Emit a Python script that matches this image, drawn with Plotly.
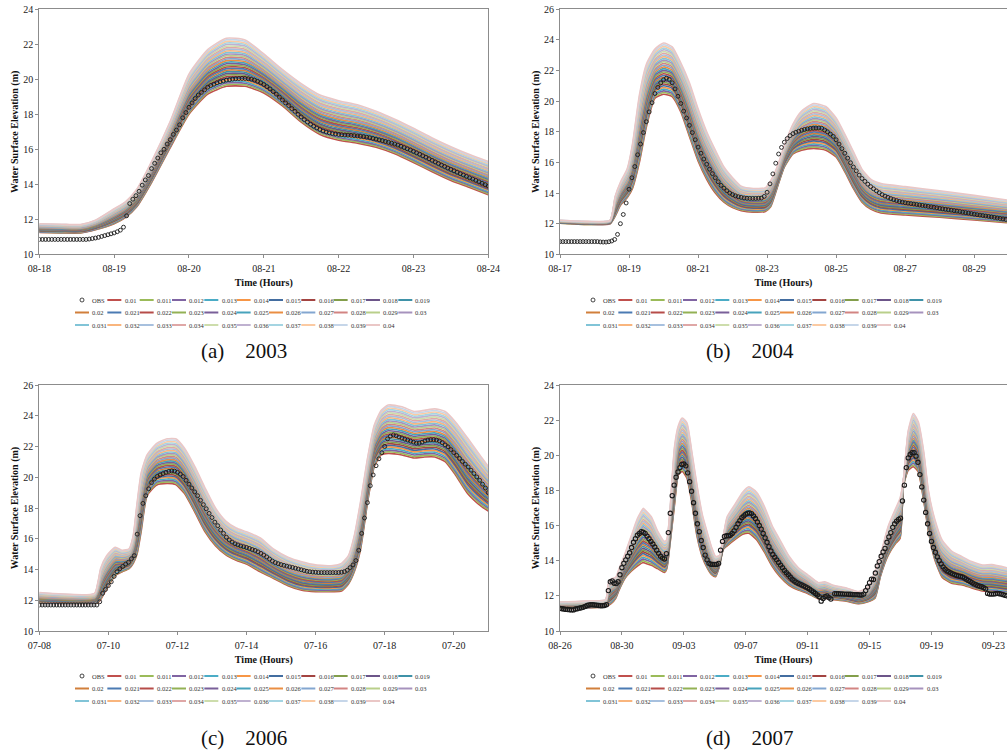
import numpy as np
import pandas as pd
import plotly.graph_objects as go

W, H = 1007, 755

# ---------------- data ----------------
N_NAMES = ["0.01", "0.011", "0.012", "0.013", "0.014", "0.015", "0.016", "0.017", "0.018", "0.019",
           "0.02", "0.021", "0.022", "0.023", "0.024", "0.025", "0.026", "0.027", "0.028", "0.029",
           "0.03", "0.031", "0.032", "0.033", "0.034", "0.035", "0.036", "0.037", "0.038", "0.039", "0.04"]

X_TICK_FORMAT = "%m-%d"

# (a) 2003 : OBS hourly from 08-18 00:00
A_START = "2003-08-18"
A_OBS_STEP_H = 1
A_OBS = [10.85] * 16 + [
    10.87, 10.90, 10.93, 10.97, 11.02, 11.07, 11.12, 11.17, 11.22, 11.29, 11.38, 11.55,
    12.20, 12.90, 13.15, 13.35, 13.60, 13.95, 14.25, 14.50, 14.90, 15.20, 15.50, 15.80,
    16.00, 16.30, 16.55, 16.85, 17.10, 17.40, 17.80, 18.10, 18.40, 18.65, 18.90, 19.10,
    19.25, 19.40, 19.55, 19.65, 19.72, 19.80, 19.86, 19.90, 19.95, 19.98, 20.01, 20.03,
    20.04, 20.05, 20.05, 20.03, 20.00, 19.95, 19.88, 19.80, 19.70, 19.58, 19.45, 19.30,
    19.15, 18.98, 18.82, 18.65, 18.50, 18.33, 18.17, 18.00, 17.85, 17.70, 17.56, 17.43,
    17.32, 17.22, 17.13, 17.05, 16.99, 16.94, 16.90, 16.87, 16.85, 16.83, 16.82, 16.81,
    16.80, 16.78, 16.76, 16.74, 16.72, 16.69, 16.66, 16.62, 16.58, 16.54, 16.50, 16.45,
    16.40, 16.35, 16.30, 16.24, 16.17, 16.10, 16.03, 15.96, 15.88, 15.80, 15.72, 15.63,
    15.55, 15.46, 15.37, 15.28, 15.19, 15.10, 15.02, 14.93, 14.85, 14.77, 14.69, 14.61,
    14.53, 14.45, 14.37, 14.30, 14.22, 14.14, 14.06, 13.98, 13.90]
A_MOD_DAYS = [0, 0.3, 0.55, 0.75, 1.0, 1.15, 1.3, 1.5, 1.75, 2.0, 2.25, 2.5, 2.75, 3.0, 3.25,
              3.5, 3.75, 4.0, 4.25, 4.5, 4.75, 5.0, 5.25, 5.5, 5.75, 6.0]
A_MOD_LO = [11.25, 11.22, 11.22, 11.40, 11.75, 12.10, 12.70, 14.10, 16.10, 18.00, 19.15, 19.60, 19.60,
            19.22, 18.48, 17.55, 16.85, 16.52, 16.35, 16.12, 15.75, 15.25, 14.72, 14.22, 13.82, 13.40]
A_MOD_HI = [11.75, 11.72, 11.70, 11.95, 12.60, 13.00, 13.70, 15.30, 17.60, 20.30, 21.70, 22.35, 22.25,
            21.45, 20.55, 19.75, 19.10, 18.78, 18.55, 18.18, 17.72, 17.20, 16.65, 16.15, 15.70, 15.30]

# (b) 2004 : OBS 2-hourly from 08-17 00:00
B_START = "2004-08-17"
B_OBS_STEP_H = 2
B_OBS = [10.83] * 14 + [
    10.81, 10.80, 10.80, 10.82, 10.87, 10.97, 11.30, 12.00, 12.60, 13.35, 14.25, 15.00,
    15.73, 16.50, 17.20, 17.95, 18.66, 19.30, 19.90, 20.50, 20.90, 21.20, 21.40, 21.50,
    21.42, 21.20, 20.80, 20.32, 19.85, 19.35, 18.90, 18.42, 17.95, 17.48, 17.00, 16.60,
    16.22, 15.88, 15.56, 15.27, 15.00, 14.74, 14.50, 14.32, 14.15, 14.00, 13.90, 13.82,
    13.76, 13.72, 13.68, 13.66, 13.65, 13.65, 13.65, 13.66, 13.67, 13.78, 14.05, 14.60,
    15.25, 15.95, 16.55, 16.98, 17.32, 17.56, 17.75, 17.88, 17.97, 18.04, 18.10, 18.15,
    18.19, 18.22, 18.24, 18.25, 18.25, 18.23, 18.12, 18.00, 17.85, 17.70, 17.48, 17.20,
    16.90, 16.60, 16.28, 15.98, 15.70, 15.45, 15.17, 14.95, 14.76, 14.58, 14.42, 14.28,
    14.14, 14.02, 13.90, 13.80, 13.72, 13.64, 13.57, 13.51, 13.45, 13.41, 13.37, 13.34,
    13.31, 13.28, 13.25, 13.22, 13.19, 13.16, 13.13, 13.10, 13.07, 13.04, 13.00, 12.97,
    12.94, 12.91, 12.88, 12.85, 12.82, 12.79, 12.75, 12.72, 12.69, 12.66, 12.62, 12.59,
    12.56, 12.53, 12.50, 12.47, 12.44, 12.41, 12.37, 12.34, 12.31, 12.28]
B_MOD_DAYS = [0, 0.8, 1.45, 1.6, 1.75, 1.95, 2.1, 2.3, 2.5, 2.75, 3.0, 3.25, 3.5, 3.75, 4.0, 4.25,
              4.5, 4.75, 5.0, 5.25, 5.6, 5.95, 6.1, 6.3, 6.5, 6.75, 7.0, 7.35, 7.7, 8.0, 8.25, 8.5,
              8.75, 9.0, 9.3, 10.0, 11.0, 12.0, 12.95]
B_MOD_LO = [12.03, 11.95, 12.00, 12.50, 13.20, 13.70, 14.30, 16.00, 18.30, 20.20, 20.45, 20.30, 19.30,
            17.70, 16.10, 14.90, 14.00, 13.40, 13.05, 12.85, 12.75, 12.80, 13.10, 14.40, 15.70, 16.55,
            16.80, 16.92, 16.80, 16.35, 15.40, 14.30, 13.40, 12.95, 12.70, 12.57, 12.42, 12.24, 12.07]
B_MOD_HI = [12.22, 12.15, 12.22, 13.80, 14.70, 15.60, 17.20, 20.40, 22.40, 23.40, 23.80, 23.55, 22.50,
            21.20, 19.50, 18.00, 16.80, 15.70, 15.00, 14.45, 14.30, 14.35, 14.80, 15.75, 17.10, 18.50,
            19.35, 19.85, 19.65, 18.90, 17.85, 16.70, 15.55, 14.90, 14.62, 14.42, 14.15, 13.85, 13.55]

# (c) 2006 : OBS 2-hourly from 07-08 00:00
C_START = "2006-07-08"
C_OBS_STEP_H = 2
C_OBS = [11.69] * 21 + [
    11.90, 12.45, 12.70, 12.95, 13.20, 13.55, 13.85, 14.05, 14.20, 14.35, 14.47, 14.70,
    14.90, 16.30, 17.50, 18.30, 18.80, 19.25, 19.65, 19.88, 20.05, 20.15, 20.24, 20.32,
    20.38, 20.41, 20.40, 20.32, 20.20, 20.05, 19.80, 19.55, 19.30, 19.05, 18.80, 18.50,
    18.22, 17.95, 17.65, 17.38, 17.08, 16.85, 16.57, 16.35, 16.10, 15.92, 15.78, 15.67,
    15.60, 15.53, 15.48, 15.43, 15.37, 15.30, 15.24, 15.15, 15.05, 14.94, 14.82, 14.68,
    14.55, 14.45, 14.38, 14.32, 14.27, 14.22, 14.17, 14.13, 14.08, 14.03, 13.98, 13.93,
    13.88, 13.85, 13.83, 13.82, 13.80, 13.80, 13.80, 13.80, 13.80, 13.80, 13.80, 13.80,
    13.82, 13.86, 13.95, 14.12, 14.30, 14.58, 15.25, 16.35, 17.35, 18.35, 19.45, 20.15,
    20.75, 21.20, 21.60, 22.00, 22.50, 22.68, 22.75, 22.70, 22.62, 22.55, 22.48, 22.42,
    22.35, 22.28, 22.22, 22.22, 22.28, 22.36, 22.42, 22.44, 22.44, 22.42, 22.36, 22.25,
    22.10, 21.98, 21.80, 21.60, 21.42, 21.22, 21.03, 20.85, 20.67, 20.46, 20.24, 20.02,
    19.80, 19.55, 19.30, 19.00]
C_MOD_DAYS = [0, 1.6, 1.7, 1.78, 1.95, 2.2, 2.4, 2.6, 2.72, 2.83, 2.95, 3.12, 3.4, 3.7, 3.95, 4.2,
              4.5, 4.8, 5.1, 5.4, 5.7, 6.0, 6.4, 6.8, 7.2, 7.6, 8.0, 8.5, 8.75, 8.95, 9.12, 9.3, 9.5,
              9.7, 9.9, 10.1, 10.5, 10.85, 11.15, 11.45, 11.75, 12.05, 12.4, 12.8, 13.0]
C_MOD_LO = [11.80, 11.80, 11.85, 12.05, 12.75, 13.60, 13.85, 14.05, 14.40, 15.00, 16.50, 18.80, 19.50,
            19.60, 19.52, 18.95, 17.75, 16.45, 15.55, 14.95, 14.60, 14.35, 13.85, 13.40, 12.95, 12.65,
            12.56, 12.56, 12.60, 13.05, 13.85, 15.30, 18.30, 20.70, 21.45, 21.55, 21.45, 21.25, 21.32,
            21.32, 21.02, 20.15, 18.95, 18.10, 17.80]
C_MOD_HI = [12.50, 12.45, 13.20, 14.10, 14.90, 15.45, 15.25, 15.35, 16.20, 18.30, 20.30, 21.45, 22.20,
            22.50, 22.50, 21.90, 20.70, 19.30, 18.00, 17.15, 16.70, 16.45, 16.05, 15.30, 14.80, 14.50,
            14.30, 14.25, 14.40, 14.90, 16.20, 18.40, 21.20, 23.40, 24.35, 24.70, 24.58, 24.28, 24.35,
            24.45, 24.28, 23.60, 22.55, 21.30, 20.70]

# (d) 2007 : OBS 3-hourly from 08-26 00:00 (None = missing record)
D_START = "2007-08-26"
D_OBS_STEP_H = 3
D_OBS = [
    11.29, 11.27, 11.25, 11.23, 11.22, 11.21, 11.20, 11.20,
    11.25, 11.27, 11.30, 11.32, 11.35, 11.40, 11.45, 11.48,
    11.50, 11.49, 11.48, 11.47, 11.45, 11.44, 11.44, 11.45,
    11.50, 12.30, 12.80, 12.85, 12.72, 12.70, 12.80, 13.20,
    13.60, 13.85, 14.05, 14.25, 14.45, 14.75, 15.05, 15.25,
    15.45, 15.55, 15.65, 15.62, 15.55, 15.40, 15.25, 15.10,
    14.95, 14.78, 14.60, 14.42, 14.25, 14.15, 14.10, 14.40,
    15.60, 16.70, 17.70, 18.30, 18.75, 19.05, 19.30, 19.48,
    19.50, 19.40, 19.00, 18.50, 17.95, 17.30, 16.70, 16.10,
    15.65, 15.15, 14.75, 14.32, 14.05, 13.85, 13.80, 13.79,
    13.79, 13.79, 13.85, 14.60, 15.10, 15.38, 15.42, 15.42,
    15.45, 15.55, 15.70, 15.90, 16.10, 16.28, 16.45, 16.55,
    16.65, 16.70, 16.72, 16.68, 16.55, 16.40, 16.20, 16.00,
    15.80, 15.55, 15.30, 15.05, 14.80, 14.55, 14.35, 14.20,
    14.05, 13.90, 13.75, 13.60, 13.45, 13.32, 13.20, 13.07,
    12.95, 12.86, 12.78, 12.72, 12.67, 12.62, 12.57, 12.51,
    12.45, 12.38, 12.30, 12.22, 12.14, 12.05, 11.95, 11.70,
    11.85, 11.95, 12.00, 11.90, 11.82, None, 12.12, 12.12,
    12.12, 12.11, 12.11, 12.10, 12.10, 12.09, 12.09, 12.08,
    12.07, 12.07, 12.06, 12.05, 12.05, 12.10, 12.30, 12.50,
    12.75, 12.95, 12.93, 13.30, 13.70, 13.95, 14.25, 14.50,
    14.70, 15.05, 15.35, 15.60, 15.90, 16.10, 16.25, 16.35,
    16.42, 17.40, 18.30, 19.30, 19.85, 20.05, 20.15, 20.15,
    19.95, 19.60, 18.90, 18.20, 17.45, 16.75, 16.10, 15.55,
    15.10, 14.75, 14.48, 14.22, 14.00, 13.82, 13.65, 13.52,
    13.42, 13.36, 13.30, 13.25, 13.20, 13.16, 13.13, 13.10,
    13.08, 13.02, 12.95, 12.88, 12.82, 12.75, 12.68, 12.63,
    12.58, 12.55, 12.52, 12.46, 12.40, 12.14, 12.10, 12.10,
    12.10, 12.12, 12.14, 12.12, 12.10, 12.07, 12.03, 12.00]
D_MOD_DAYS = [0, 1.0, 2.0, 2.95, 3.12, 3.3, 3.6, 3.8, 4.2, 4.6, 5.0, 5.38, 5.42, 5.9, 6.3, 6.75, 6.9,
              7.1, 7.4, 7.65, 7.9, 8.2, 8.5, 8.85, 9.2, 9.5, 9.8, 10.05, 10.3, 10.55, 10.8, 11.3, 11.8,
              12.2, 12.7, 13.2, 13.7, 14.2, 14.8, 15.4, 16.0, 16.7, 17.1, 17.6, 18.5, 19.3, 19.9, 20.35,
              20.7, 21.2, 21.7, 21.97, 22.2, 22.5, 22.83, 23.15, 23.5, 23.8, 24.2, 24.7, 25.3, 26.0,
              26.6, 27.3, 27.9, 28.88]
D_MOD_LO = [11.30, 11.28, 11.32, 11.38, 11.45, 11.55, 11.86, 12.30, 13.00, 13.40, 13.70, 13.90, 13.88,
            13.74, 13.55, 13.33, 13.55, 14.90, 17.20, 18.90, 19.08, 18.70, 17.40, 15.40, 14.20, 13.60,
            13.20, 13.09, 13.70, 14.65, 14.85, 15.20, 15.50, 15.56, 15.20, 14.50, 13.70, 13.10, 12.60,
            12.33, 12.14, 11.83, 11.86, 11.80, 11.70, 11.55, 11.66, 11.86, 13.10, 14.30, 15.00, 15.27,
            18.30, 19.15, 19.35, 19.05, 17.40, 15.70, 14.10, 13.05, 12.72, 12.62, 12.45, 12.28, 12.24,
            12.14]
D_MOD_HI = [11.65, 11.68, 11.72, 11.78, 12.70, 12.95, 13.05, 13.50, 14.40, 15.40, 16.40, 16.98, 16.95,
            16.50, 15.70, 15.10, 15.20, 16.80, 20.50, 21.70, 22.12, 21.85, 20.30, 18.30, 16.60, 15.65,
            14.75, 14.25, 14.30, 15.40, 16.50, 17.20, 17.90, 18.20, 17.90, 17.10, 16.00, 15.20, 14.25,
            13.60, 13.20, 12.75, 12.80, 12.62, 12.45, 12.25, 12.50, 13.40, 14.30, 15.95, 17.00, 17.55,
            18.70, 21.40, 22.38, 21.90, 20.20, 18.00, 16.40, 15.15, 14.55, 14.22, 13.95, 13.76, 13.78,
            13.60]

CAPTIONS = ["(a)", "(b)", "(c)", "(d)"]
YEARS = ["2003", "2004", "2006", "2007"]

# ---------------- styling ----------------
BASE = ["#4F81BD", "#C0504D", "#9BBB59", "#8064A2", "#4BACC6", "#F79646"]


def mix(hexc, amt):
    """amt<0 darken, amt>0 lighten."""
    r, g, b = int(hexc[1:3], 16), int(hexc[3:5], 16), int(hexc[5:7], 16)
    if amt >= 0:
        r, g, b = [int(c + (255 - c) * amt) for c in (r, g, b)]
    else:
        r, g, b = [int(c * (1 + amt)) for c in (r, g, b)]
    return "#%02x%02x%02x" % (r, g, b)


TIER = [0.0, -0.15, -0.05, 0.30, 0.50, 0.68]
COLORS = []
for k in range(len(N_NAMES)):
    s = k + 1  # Excel series index (OBS = series 0)
    COLORS.append(mix(BASE[s % 6], TIER[s // 6]))

SERIF = "Liberation Serif, Times New Roman, serif"
AX_COL = "#8c8c8c"

# pixel layout of the four plot areas: (left, right, top, bottom)
PANELS = [
    dict(box=(39.3, 488.3, 9.3, 254.3), rng_days=6.0, dtick=1, y=(10, 24), leg=(75, 300), cap=(244, 351)),
    dict(box=(560.0, 1007.0, 9.3, 254.3), rng_days=12.95, dtick=2, y=(10, 26), leg=(586, 300), cap=(750, 351)),
    dict(box=(39.3, 488.3, 385.0, 631.0), rng_days=13.0, dtick=2, y=(10, 26), leg=(75, 676), cap=(244, 738)),
    dict(box=(560.0, 1007.0, 385.0, 631.0), rng_days=28.88, dtick=4, y=(10, 24), leg=(586, 676), cap=(750, 738)),
]
DATA = [
    (A_START, A_OBS_STEP_H, A_OBS, A_MOD_DAYS, A_MOD_LO, A_MOD_HI),
    (B_START, B_OBS_STEP_H, B_OBS, B_MOD_DAYS, B_MOD_LO, B_MOD_HI),
    (C_START, C_OBS_STEP_H, C_OBS, C_MOD_DAYS, C_MOD_LO, C_MOD_HI),
    (D_START, D_OBS_STEP_H, D_OBS, D_MOD_DAYS, D_MOD_LO, D_MOD_HI),
]


def pxx(x):
    return x / W


def pxy(y):
    return 1 - y / H


fig = go.Figure()
shapes = []
annotations = []
layout_axes = {}

for p, (cfg, dat) in enumerate(zip(PANELS, DATA), start=1):
    start, step_h, obs, mdays, mlo, mhi = dat
    xa = "x" if p == 1 else f"x{p}"
    ya = "y" if p == 1 else f"y{p}"
    t0 = pd.Timestamp(start)
    tmod = t0 + pd.to_timedelta(np.array(mdays, dtype=float), unit="D")
    lo = np.array(mlo, dtype=float)
    hi = np.array(mhi, dtype=float)
    nser = len(N_NAMES)
    # roughness runs: spread between the lowest (0.01) and highest (0.04) runs
    for k, (name, col) in enumerate(zip(N_NAMES, COLORS)):
        f = k / (nser - 1)
        fig.add_trace(go.Scatter(
            x=tmod, y=lo + (hi - lo) * f, mode="lines", name=name,
            line=dict(color=col, width=1.6, shape="spline", smoothing=0.55),
            xaxis=xa, yaxis=ya, showlegend=False, hoverinfo="skip"))
    tobs = t0 + pd.to_timedelta(np.arange(len(obs)) * step_h, unit="h")
    msize = 4.3 if p == 4 else 3.9
    mlw = 1.1 if p == 4 else 0.9
    fig.add_trace(go.Scatter(
        x=tobs, y=obs, mode="markers", name="OBS",
        marker=dict(symbol="circle-open", size=msize, color="#1a1a1a", line=dict(width=mlw)),
        xaxis=xa, yaxis=ya, showlegend=False))

    l, r, t, b = cfg["box"]
    xkey = "xaxis" if p == 1 else f"xaxis{p}"
    ykey = "yaxis" if p == 1 else f"yaxis{p}"
    t_end = t0 + pd.Timedelta(days=cfg["rng_days"])
    layout_axes[xkey] = dict(
        domain=[pxx(l), min(1.0, pxx(r))], anchor=ya, type="date", automargin=False,
        range=[t0.strftime("%Y-%m-%d %H:%M:%S"), t_end.strftime("%Y-%m-%d %H:%M:%S")],
        tick0=t0.strftime("%Y-%m-%d"), dtick=86400000 * cfg["dtick"], tickformat=X_TICK_FORMAT,
        showgrid=False, zeroline=False, showline=True, linecolor=AX_COL, linewidth=1, mirror=True,
        ticks="outside", ticklen=3, tickcolor=AX_COL, ticklabelstandoff=2,
        tickfont=dict(family=SERIF, size=10, color="#222"),
        title=dict(text="<b>Time (Hours)</b>", font=dict(family=SERIF, size=10, color="#111"), standoff=5),
    )
    layout_axes[ykey] = dict(
        domain=[pxy(b), pxy(t)], anchor=xa, range=list(cfg["y"]), dtick=2, automargin=False,
        showgrid=False, zeroline=False, showline=True, linecolor=AX_COL, linewidth=1, mirror=True,
        ticks="outside", ticklen=3, tickcolor=AX_COL,
        tickfont=dict(family=SERIF, size=10, color="#222"),
        title=dict(text="<b>Water Surface Elevation (m)</b>", font=dict(family=SERIF, size=10, color="#111"),
                   standoff=2),
    )

    # legend block (Excel-style grid: 11 columns x 3 rows)
    lx, ly = cfg["leg"]
    pitch, rowgap, seg = 32.33, 12.5, 14
    entries = ["OBS"] + N_NAMES
    ecolors = ["#1a1a1a"] + COLORS
    for j, (name, col) in enumerate(zip(entries, ecolors)):
        row, colm = divmod(j, 11)
        x0 = lx + colm * pitch
        yy = ly + row * rowgap
        if j == 0:
            rr = 2.0
            shapes.append(dict(type="circle", xref="paper", yref="paper",
                               x0=pxx(x0 + seg / 2 - rr), x1=pxx(x0 + seg / 2 + rr),
                               y0=pxy(yy + rr), y1=pxy(yy - rr),
                               line=dict(color=col, width=0.8)))
        else:
            shapes.append(dict(type="line", xref="paper", yref="paper",
                               x0=pxx(x0), x1=pxx(x0 + seg), y0=pxy(yy), y1=pxy(yy),
                               line=dict(color=col, width=2)))
        annotations.append(dict(text=name, xref="paper", yref="paper", x=pxx(x0 + seg + 1.2), y=pxy(yy),
                                xanchor="left", yanchor="middle", showarrow=False,
                                font=dict(family=SERIF, size=6.5, color="#333")))
    cx, cy = cfg["cap"]
    annotations.append(dict(text=CAPTIONS[p - 1] + "\u00a0\u00a0\u00a0\u00a0" + YEARS[p - 1],
                            xref="paper", yref="paper", x=pxx(cx), y=pxy(cy),
                            xanchor="center", yanchor="middle", showarrow=False,
                            font=dict(family=SERIF, size=21, color="#111")))

fig.update_layout(
    width=W, height=H, margin=dict(l=0, r=0, t=0, b=0, autoexpand=False),
    paper_bgcolor="white", plot_bgcolor="white",
    showlegend=False, shapes=shapes, annotations=annotations,
    **layout_axes,
)

fig.write_html(
    "out.html",
    config={"displayModeBar": False},
    post_script="document.body.style.margin='0';document.body.style.overflow='hidden';",
)
